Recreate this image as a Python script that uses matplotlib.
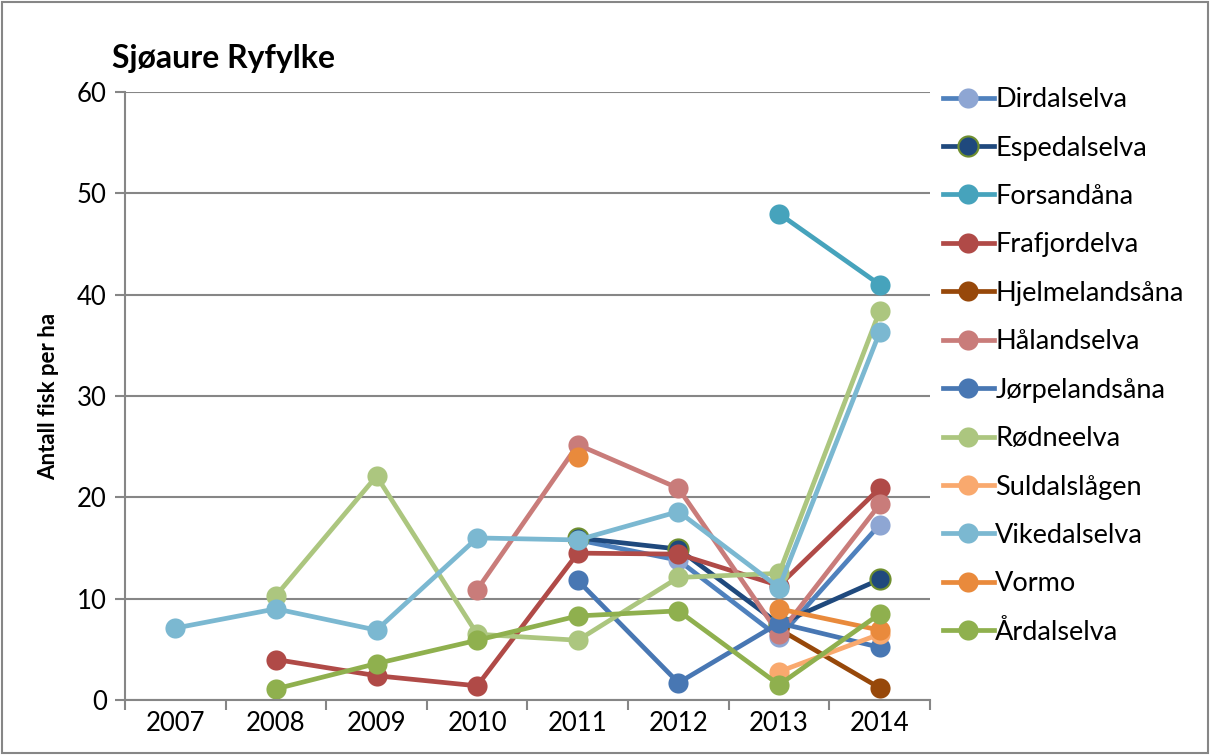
import numpy as np
import matplotlib
matplotlib.use('Agg')
import matplotlib.pyplot as plt
from matplotlib.patches import Rectangle

plt.rcParams['font.family'] = ['Lato', 'DejaVu Sans']

nan = np.nan

# Years on the category axis
years = [2007, 2008, 2009, 2010, 2011, 2012, 2013, 2014]

# Fish per hectare for each river (nan = no survey)
dirdalselva = [nan, nan, nan, nan, 15.8, 13.8, 6.2, 17.3]
espedalselva = [nan, nan, nan, nan, 16.0, 14.9, 7.5, 11.9]
forsandaana = [nan, nan, nan, nan, nan, nan, 48.0, 41.0]
frafjordelva = [nan, 4.0, 2.4, 1.4, 14.5, 14.4, 11.3, 20.9]
hjelmelandsaana = [nan, nan, nan, nan, nan, nan, 7.0, 1.2]
haalandselva = [nan, nan, nan, 10.9, 25.2, 20.9, 6.5, 19.3]
jorpelandsaana = [nan, nan, nan, nan, 11.8, 1.7, 7.6, 5.2]
rodneelva = [nan, 10.3, 22.1, 6.5, 5.9, 12.1, 12.5, 38.4]
suldalslaagen = [nan, nan, nan, nan, nan, nan, 2.8, 6.5]
vikedalselva = [7.1, 9.0, 6.9, 16.0, 15.8, 18.6, 11.1, 36.3]
vormo = [nan, nan, nan, nan, 24.0, nan, 9.0, 6.9]
aardalselva = [nan, 1.1, 3.6, 5.9, 8.3, 8.8, 1.5, 8.5]

labels = ['Dirdalselva', 'Espedalselva', 'Forsandåna', 'Frafjordelva',
          'Hjelmelandsåna', 'Hålandselva', 'Jørpelandsåna', 'Rødneelva',
          'Suldalslågen', 'Vikedalselva', 'Vormo', 'Årdalselva']
series = [dirdalselva, espedalselva, forsandaana, frafjordelva,
          hjelmelandsaana, haalandselva, jorpelandsaana, rodneelva,
          suldalslaagen, vikedalselva, vormo, aardalselva]
line_colors = ['#4F81BD', '#1F497D', '#46A3BC', '#B04A47',
               '#97480A', '#C97C7A', '#4877B3', '#ACC67F',
               '#F9A96E', '#7BB8D1', '#E98A3C', '#8FB04E']
marker_colors = ['#8EA6D3', '#1F497D', '#46A3BC', '#B04A47',
                 '#97480A', '#C97C7A', '#4877B3', '#ACC67F',
                 '#F9A96E', '#7BB8D1', '#E98A3C', '#8FB04E']
edge_colors = [None, '#6F8F2F', None, None, None, None, None, None,
               None, None, None, None]

fig = plt.figure(figsize=(12.1, 7.55), dpi=100)
ax = fig.add_axes([0.1033, 0.0728, 0.6653, 0.8052])

x = np.arange(len(years))
for vals, lab, lc, mc, ec in zip(series, labels, line_colors, marker_colors, edge_colors):
    ax.plot(x, vals, color=lc, lw=3.4, marker='o', markersize=14.5,
            markerfacecolor=mc, markeredgecolor=ec if ec else mc,
            markeredgewidth=1.5 if ec else 0, label=lab)

ax.set_xlim(-0.5, len(years) - 0.5)
ax.set_ylim(0, 60)
ax.set_yticks(range(0, 61, 10))
ax.set_xticks(x)
ax.set_xticklabels([str(y) for y in years])
ax.set_xticks(np.arange(-0.5, len(years)), minor=True)
ax.tick_params(axis='x', which='major', length=0, labelsize=18.5, pad=8)
ax.tick_params(axis='x', which='minor', length=7, width=1.5, color='#868686')
ax.tick_params(axis='y', length=7, width=1.5, color='#868686', labelsize=18.5, pad=6)

ax.grid(axis='y', color='#868686', lw=1.5)
ax.set_axisbelow(True)
for side in ['top', 'right']:
    ax.spines[side].set_visible(False)
for side in ['left', 'bottom']:
    ax.spines[side].set_color('#868686')
    ax.spines[side].set_linewidth(1.5)

ax.set_ylabel('Antall fisk per ha', fontsize=16, fontweight='bold', labelpad=13)
fig.text(0.0926, 0.922, 'Sjøaure Ryfylke', fontsize=23, fontweight='bold',
         ha='left', va='center')

fig.legend(loc='upper left', bbox_to_anchor=(0.770, 0.899), frameon=False,
           fontsize=19.5, handlelength=1.9, handletextpad=0.05,
           labelspacing=0.865, borderaxespad=0)

# chart border
fig.patches.append(Rectangle((0.002, 0.002), 0.996, 0.996, transform=fig.transFigure,
                             fill=False, edgecolor='#868686', lw=1.5))

fig.savefig('out.png', dpi=100)
